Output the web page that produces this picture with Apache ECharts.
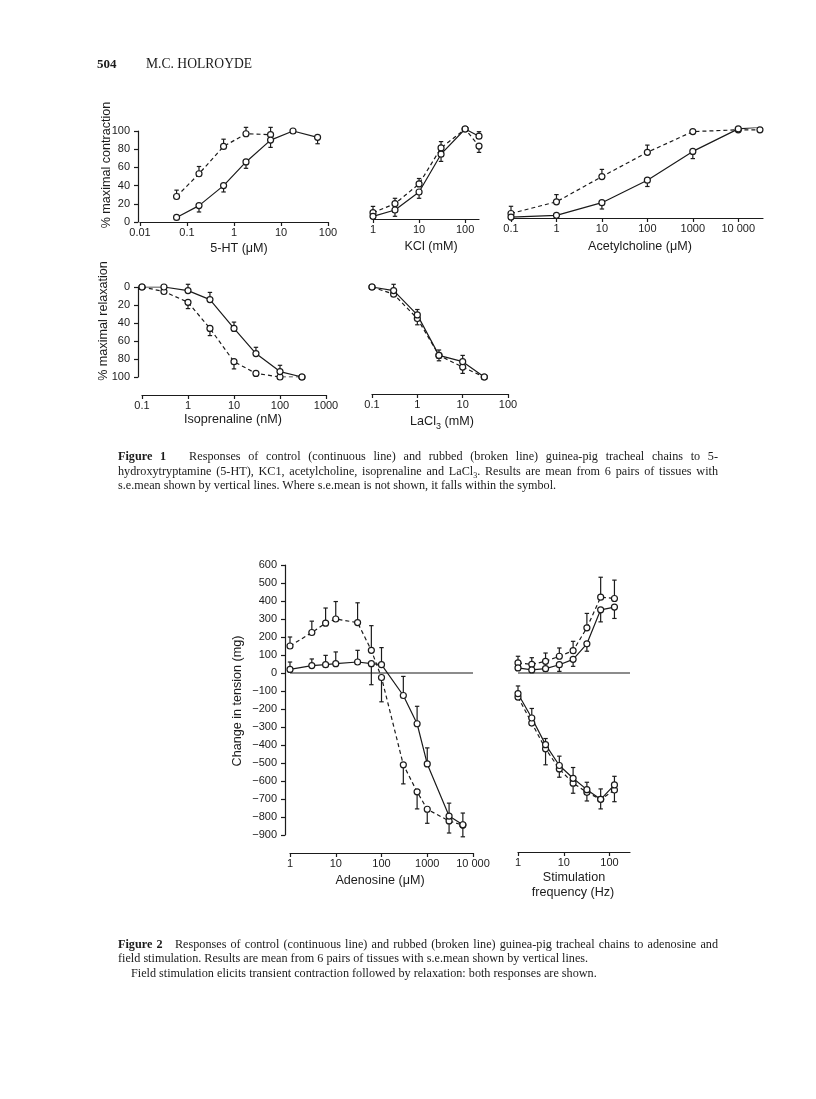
<!DOCTYPE html>
<html><head><meta charset="utf-8">
<script src="https://cdn.jsdelivr.net/npm/echarts@6.0.0/dist/echarts.min.js"></script>
<style>
html,body{margin:0;padding:0;background:#fff;}
#wrap{position:relative;width:816px;height:1099px;overflow:hidden;}
#chart{position:absolute;left:0;top:0;width:816px;height:1099px;}
.t{position:absolute;font-family:'Liberation Serif','Times New Roman',serif;color:#1b1b1b;white-space:nowrap;}
.cap{position:absolute;left:118px;width:600px;font-family:'Liberation Serif','Times New Roman',serif;font-size:12.2px;line-height:14px;color:#1b1b1b;text-align:justify;text-align-last:justify;white-space:nowrap;}
.cap.l{text-align:left;text-align-last:left;}
</style></head>
<body><div id="wrap"><div id="chart"></div>
<div class="t" style="left:97px;top:56px;font-size:13px;font-weight:bold;line-height:16px;">504</div>
<div class="t" style="left:146px;top:56px;font-size:13.6px;line-height:16px;">M.C. HOLROYDE</div>
<div class="cap" style="top:449px"><b>Figure 1</b>&nbsp;&nbsp; Responses of control (continuous line) and rubbed (broken line) guinea-pig tracheal chains to 5-</div>
<div class="cap" style="top:464px">hydroxytryptamine (5-HT), KC1, acetylcholine, isoprenaline and LaCl<sub style="font-size:8px;line-height:0">3</sub>. Results are mean from 6 pairs of tissues with</div>
<div class="cap l" style="top:478px">s.e.mean shown by vertical lines. Where s.e.mean is not shown, it falls within the symbol.</div>
<div class="cap" style="top:937px"><b>Figure 2</b>&nbsp;&nbsp; Responses of control (continuous line) and rubbed (broken line) guinea-pig tracheal chains to adenosine and</div>
<div class="cap l" style="top:951px">field stimulation. Results are mean from 6 pairs of tissues with s.e.mean shown by vertical lines.</div>
<div class="cap l" style="top:966px;left:131px">Field stimulation elicits transient contraction followed by relaxation: both responses are shown.</div>
</div>
<script>
// ---------------- DATA ----------------
// Figure 1 (a) 5-HT, % maximal contraction
const htDose = [0.06, 0.18, 0.6, 1.8, 6, 18, 60];
const htControl = [5, 18, 40, 66, 90, 100, 93];
const htControlErr = [0, -7, -7, -7, -8, 0, -7];
const htRubbedDose = [0.06, 0.18, 0.6, 1.8, 6];
const htRubbed = [28, 53, 83, 97, 96];
const htRubbedErr = [7, 8, 8, 7, 8];
const htTicks = [0.01, 0.1, 1, 10, 100];

// Figure 1 (b) KCl
const kclDose = [1, 3, 10, 30, 100, 200];
const kclControl = [3, 10, 30, 72, 100, 92];
const kclControlErr = [0, -7, -7, -8, 0, 5];
const kclRubbed = [7, 17, 39, 79, 100, 81];
const kclRubbedErr = [7, 6, 6, 7, 0, -7];
const kclTicks = [1, 10, 100];

// Figure 1 (c) Acetylcholine
const achDose = [0.1, 1, 10, 100, 1000, 10000, 30000];
const achControl = [1, 3, 17, 42, 74, 99, 101];
const achControlErr = [0, 0, -7, -7, -8, 0, 0];
const achRubbed = [5, 18, 46, 73, 96, 98, 98];
const achRubbedErr = [8, 8, 8, 8, 0, 0, 0];
const achTicks = [0.1, 1, 10, 100, 1000, 10000];

// Figure 1 (d) Isoprenaline, % maximal relaxation
const isoDose = [0.1, 0.3, 1, 3, 10, 30, 100, 300];
const isoControl = [0, 0, 4, 14, 46, 74, 94, 100];
const isoControlErr = [0, 0, -7, -8, -7, -7, -7, 0];
const isoRubbed = [0, 5, 17, 46, 83, 96, 100, 100];
const isoRubbedErr = [0, 0, 7, 8, 8, 0, 0, 0];
const isoTicks = [0.1, 1, 10, 100, 1000];

// Figure 1 (e) LaCl3
const laDose = [0.1, 0.3, 1, 3, 10, 30];
const laControl = [0, 4, 31, 76, 83, 100];
const laControlErr = [0, -7, -6, -6, -7, 0];
const laRubbed = [0, 8, 35, 76, 89, 100];
const laRubbedErr = [0, 0, 7, 6, 7, 0];
const laTicks = [0.1, 1, 10, 100];

// Figure 2 (left) Adenosine, change in tension (mg)
const adoDose = [1, 3, 6, 10, 30, 60, 100, 300, 600, 1000, 3000, 6000];
const adoControl = [20, 41, 46, 52, 61, 52, 46, -125, -282, -505, -795, -843];
const adoControlErr = [41, 37, 52, 65, 65, -117, 95, 106, 97, 89, 72, 65];
const adoRubbed = [150, 225, 277, 300, 280, 126, -25, -510, -660, -757, -822, -845];
const adoRubbedErr = [50, 63, 84, 97, 110, 137, -135, -106, -95, -78, -67, -65];
const adoTicks = [1, 10, 100, 1000, 10000];
const adoZeroSpan = [1, 10000];

// Figure 2 (right) Field stimulation
const freq = [1, 2, 4, 8, 16, 32, 64, 128];
const contrControl = [28, 17, 24, 46, 76, 162, 351, 366];
const contrControlErr = [0, 0, -15, -37, -39, -41, -67, -63];
const contrRubbed = [56, 48, 65, 93, 124, 251, 421, 414];
const contrRubbedErr = [37, 37, 46, 46, 52, 80, 111, 102];
const relaxControl = [-115, -250, -398, -514, -585, -648, -702, -622];
const relaxControlErr = [43, 53, 34, 52, 60, 41, 58, 48];
const relaxRubbed = [-134, -278, -421, -533, -612, -663, -702, -650];
const relaxRubbedErr = [0, 0, -89, -46, -56, -48, -53, -65];
const freqTicks = [1, 10, 100];
const freqZeroSpan = [1, 280];

const tensionTicksMin = -900, tensionTicksMax = 600, tensionStep = 100;

// ---------------- STYLE / HELPERS ----------------
const INK = '#1b1b1b';
const FONT = "'Liberation Sans', Arial, Helvetica, sans-serif";

function fmtX(v) {
  v = +(+v).toPrecision(6);
  if (v >= 10000) return String(v).replace(/(\d)(?=(\d{3})+$)/g, '$1 ');
  return String(v);
}
function fmtY(v) { return v < 0 ? '\u2212' + Math.abs(v) : String(v); }

const grids = [
  {left: 140, top: 131, width: 188, height: 91},   // 0 5-HT
  {left: 373, top: 129, width: 106, height: 90},   // 1 KCl
  {left: 511, top: 128, width: 252, height: 90},   // 2 ACh
  {left: 142, top: 287, width: 184, height: 90},   // 3 Iso
  {left: 372, top: 287, width: 136, height: 90},   // 4 LaCl3
  {left: 290, top: 565, width: 183, height: 270},  // 5 Adenosine
  {left: 518, top: 565, width: 112, height: 270}   // 6 Stim
].map(g => Object.assign({outerBoundsMode: 'none', containLabel: false, show: false}, g));

function logX(gi, min, max, ticks, offset) {
  return {
    type: 'log', logBase: 10, gridIndex: gi, min, max, offset: offset || 0, position: 'bottom',
    axisLine: {show: true, onZero: false, lineStyle: {color: INK, width: 1.2}},
    axisTick: {show: true, inside: false, length: 4, lineStyle: {color: INK, width: 1.2}, customValues: ticks},
    axisLabel: {show: true, margin: 5, fontSize: 11, color: INK, fontFamily: FONT, customValues: ticks, formatter: fmtX, hideOverlap: false},
    minorTick: {show: false}, splitLine: {show: false}, minorSplitLine: {show: false}
  };
}
function linY(gi, min, max, interval, show, inverse, offset) {
  return {
    type: 'value', gridIndex: gi, min, max, interval, inverse: !!inverse, show: !!show, offset: offset || 0,
    axisLine: {show: true, onZero: false, lineStyle: {color: INK, width: 1.2}},
    axisTick: {show: true, inside: false, length: 4, lineStyle: {color: INK, width: 1.2}},
    axisLabel: {show: true, margin: 8, fontSize: 11, color: INK, fontFamily: FONT, formatter: fmtY},
    splitLine: {show: false}
  };
}

function curve(gi, xs, ys, dashed) {
  return {
    type: 'line', xAxisIndex: gi, yAxisIndex: gi, data: xs.map((x, i) => [x, ys[i]]),
    symbol: 'circle', symbolSize: 6, showSymbol: true, silent: true, animation: false, z: 3,
    emphasis: {disabled: true},
    lineStyle: {color: INK, width: 1.2, type: dashed ? [4, 3] : 'solid'},
    itemStyle: {color: '#fff', borderColor: INK, borderWidth: 1.2}
  };
}
function errRender(params, api) {
  const x = api.value(0), y = api.value(1), e = api.value(2);
  if (!e) return null;
  const p0 = api.coord([x, y]);
  const p1 = api.coord([x, y + e]);
  const c = 2.2;
  return {type: 'group', children: [
    {type: 'line', shape: {x1: p0[0], y1: p0[1], x2: p1[0], y2: p1[1]}, style: {stroke: INK, lineWidth: 1.2}},
    {type: 'line', shape: {x1: p1[0] - c, y1: p1[1], x2: p1[0] + c, y2: p1[1]}, style: {stroke: INK, lineWidth: 1.2}}
  ]};
}
function errBars(gi, xs, ys, es) {
  return {
    type: 'custom', xAxisIndex: gi, yAxisIndex: gi, silent: true, animation: false, z: 2,
    encode: {x: 0, y: 1},
    data: xs.map((x, i) => [x, ys[i], es[i]]), renderItem: errRender
  };
}
function zeroLine(gi, span) {
  return {type: 'line', xAxisIndex: gi, yAxisIndex: gi, data: span.map(x => [x, 0]), symbol: 'none',
    silent: true, animation: false, z: 1, lineStyle: {color: INK, width: 1.2}};
}
function pair(gi, xs, yc, ec, xr, yr, er) {
  return [errBars(gi, xs, yc, ec), errBars(gi, xr, yr, er), curve(gi, xr, yr, true), curve(gi, xs, yc, false)];
}

const xAxes = [
  logX(0, 0.01, 100, htTicks),
  logX(1, 1, 200, kclTicks),
  logX(2, 0.1, 35000, achTicks),
  logX(3, 0.1, 1000, isoTicks, 18),
  logX(4, 0.1, 100, laTicks, 17),
  logX(5, 1, 10000, adoTicks, 18),
  logX(6, 1, 280, freqTicks, 17)
];
const yAxes = [
  linY(0, 0, 100, 20, true, false, 2),
  linY(1, 0, 100, 20, false),
  linY(2, 0, 100, 20, false),
  linY(3, 0, 100, 20, true, true, 4),
  linY(4, 0, 100, 20, false, true),
  linY(5, tensionTicksMin, tensionTicksMax, tensionStep, true, false, 5),
  linY(6, tensionTicksMin, tensionTicksMax, tensionStep, false)
];

const series = [].concat(
  pair(0, htDose, htControl, htControlErr, htRubbedDose, htRubbed, htRubbedErr),
  pair(1, kclDose, kclControl, kclControlErr, kclDose, kclRubbed, kclRubbedErr),
  pair(2, achDose, achControl, achControlErr, achDose, achRubbed, achRubbedErr),
  pair(3, isoDose, isoControl, isoControlErr, isoDose, isoRubbed, isoRubbedErr),
  pair(4, laDose, laControl, laControlErr, laDose, laRubbed, laRubbedErr),
  [zeroLine(5, adoZeroSpan)],
  pair(5, adoDose, adoControl, adoControlErr, adoDose, adoRubbed, adoRubbedErr),
  [zeroLine(6, freqZeroSpan)],
  pair(6, freq, contrControl, contrControlErr, freq, contrRubbed, contrRubbedErr),
  pair(6, freq, relaxControl, relaxControlErr, freq, relaxRubbed, relaxRubbedErr)
);

function label(text, x, y, rot) {
  return {type: 'text', x, y, rotation: rot ? Math.PI / 2 : 0, silent: true,
    style: {text, fill: INK, font: '12.6px ' + FONT, align: 'center', verticalAlign: 'middle'}};
}
const graphic = [
  label('% maximal contraction', 107, 165, true),
  label('5-HT (\u03bcM)', 239, 249),
  label('KCl (mM)', 431, 247),
  label('Acetylcholine (\u03bcM)', 640, 247),
  label('% maximal relaxation', 104, 321, true),
  label('Isoprenaline (nM)', 233, 420),
  {type: 'text', x: 442, y: 420, silent: true, style: {
    text: '{n|LaCl}{s|3}{n| (mM)}', fill: INK, align: 'center', verticalAlign: 'middle',
    rich: {n: {fontSize: 12.6, fontFamily: FONT, fill: INK, lineHeight: 16, verticalAlign: 'bottom'},
           s: {fontSize: 9, fontFamily: FONT, fill: INK, lineHeight: 16, verticalAlign: 'bottom', padding: [0, 0, -3, 0]}}}},
  label('Change in tension (mg)', 238, 701, true),
  label('Adenosine (\u03bcM)', 380, 881),
  label('Stimulation', 574, 878),
  label('frequency (Hz)', 573, 893)
];

const chart = echarts.init(document.getElementById('chart'), null, {renderer: 'canvas', width: 816, height: 1099});
chart.setOption({
  animation: false,
  backgroundColor: '#fff',
  grid: grids,
  xAxis: xAxes,
  yAxis: yAxes,
  series,
  graphic
});
</script></body></html>
